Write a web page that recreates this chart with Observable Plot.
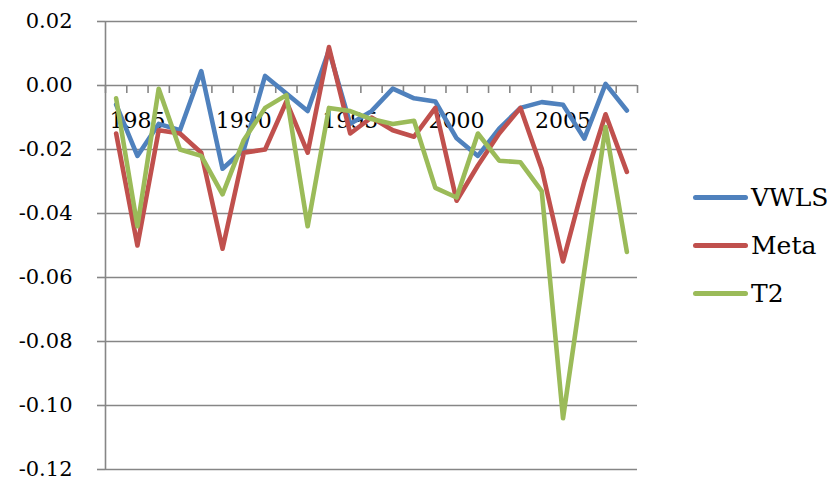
<!DOCTYPE html>
<html>
<head>
<meta charset="utf-8">
<script src="https://cdn.jsdelivr.net/npm/d3@7"></script>
<script src="https://cdn.jsdelivr.net/npm/@observablehq/plot@0.6"></script>
<style>
  html, body { margin: 0; padding: 0; background: #fff; }
  #wrap { position: relative; width: 833px; height: 482px; font-family: "DejaVu Serif", serif; }
  #legend { position: absolute; left: 693px; top: 174px; }
  .row { display: flex; align-items: center; height: 47.8px; font-size: 25px; color: #000; }
  .sw { width: 55px; height: 5px; border-radius: 3px; margin-right: 3px; }
</style>
</head>
<body>
<div id="wrap"><div id="chart"></div><div id="legend"></div></div>
<script>
const years = [1984, 1985, 1986, 1987, 1988, 1989, 1990, 1991, 1992, 1993, 1994, 1995, 1996,
  1997, 1998, 1999, 2000, 2001, 2002, 2003, 2004, 2005, 2006, 2007, 2008];
const seriesNames = ["VWLS", "Meta", "T2"];
const seriesColors = ["#4F81BD", "#C0504D", "#9BBB59"];
const vwls = [-0.006, -0.022, -0.012, -0.014, 0.0045, -0.026, -0.020, 0.003, -0.0025, -0.008, 0.011, -0.012,
  -0.008, -0.001, -0.004, -0.005, -0.0165, -0.022, -0.0135, -0.007, -0.0052, -0.006, -0.0166, 0.0005, -0.0078];
const meta = [-0.015, -0.050, -0.014, -0.015, -0.021, -0.051, -0.021, -0.020, -0.005, -0.021, 0.012, -0.015,
  -0.010, -0.014, -0.016, -0.007, -0.036, -0.025, -0.015, -0.007, -0.026, -0.055, -0.030, -0.009, -0.027];
const t2 = [-0.004, -0.044, -0.001, -0.020, -0.022, -0.034, -0.017, -0.007, -0.003, -0.044, -0.007, -0.008,
  -0.0105, -0.012, -0.011, -0.032, -0.035, -0.015, -0.0235, -0.024, -0.033, -0.104, -0.058, -0.013, -0.052];
const yTicks = [-0.12, -0.10, -0.08, -0.06, -0.04, -0.02, 0.00, 0.02];
const xLabels = [1985, 1990, 1995, 2000, 2005];

const valuesBySeries = [vwls, meta, t2];
const data = [];
seriesNames.forEach((s, k) => years.forEach((yr, i) => data.push({series: s, year: yr, value: valuesBySeries[k][i]})));
const boundaries = years.map(y => y - 0.5).concat([years[years.length - 1] + 0.5]);
const grid = "#868686";

const chart = Plot.plot({
  width: 833,
  height: 482,
  marginLeft: 105,
  marginRight: 196,
  marginTop: 21,
  marginBottom: 13,
  style: {fontFamily: "DejaVu Serif", fontSize: "21px", background: "white", overflow: "visible"},
  x: {type: "linear", domain: [years[0] - 0.5, years[years.length - 1] + 0.5], axis: null},
  y: {domain: [-0.12, 0.02], label: null},
  color: {domain: seriesNames, range: seriesColors},
  marks: [
    Plot.ruleY(yTicks, {stroke: grid, strokeWidth: 1.6}),
    Plot.ruleX([boundaries[0]], {stroke: grid, strokeWidth: 1.6}),
    Plot.ruleX(boundaries, {x: d => d, y1: 0, y2: -0.0025, stroke: grid, strokeWidth: 1.6}),
    Plot.axisY({ticks: yTicks, label: null, tickSize: 8, tickPadding: 25, tickFormat: d => d.toFixed(2),
      stroke: grid, strokeWidth: 1.6, fill: "black", fontSize: 21}),
    Plot.text(xLabels, {x: d => d, y: 0, text: d => String(d), lineAnchor: "top", dy: 27, fontSize: 22, fill: "black"}),
    Plot.line(data, {x: "year", y: "value", z: "series", stroke: "series", strokeWidth: 4.6,
      strokeLinejoin: "round", strokeLinecap: "round"})
  ]
});
document.getElementById("chart").appendChild(chart);

const legend = document.getElementById("legend");
seriesNames.forEach((s, k) => {
  const row = document.createElement("div");
  row.className = "row";
  const sw = document.createElement("div");
  sw.className = "sw";
  sw.style.background = seriesColors[k];
  const lab = document.createElement("span");
  lab.textContent = s;
  row.appendChild(sw);
  row.appendChild(lab);
  legend.appendChild(row);
});
</script>
</body>
</html>
